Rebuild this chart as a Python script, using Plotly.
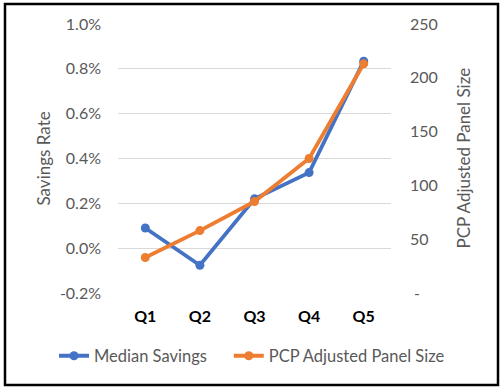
import plotly.graph_objects as go

categories = ["Q1", "Q2", "Q3", "Q4", "Q5"]
median_savings = [0.0009, -0.00076, 0.0022, 0.00337, 0.00834]
panel_size = [33, 58, 85, 125, 213]
series_names = ["Median Savings", "PCP Adjusted Panel Size"]

left_ticks = [-0.002, 0.0, 0.002, 0.004, 0.006, 0.008, 0.010]
left_ticktext = ["-0.2%", "0.0%", "0.2%", "0.4%", "0.6%", "0.8%", "1.0%"]
right_ticks = [0, 50, 100, 150, 200, 250]
right_ticktext = [" -", "50", "100", "150", "200", "250"]

BLUE = "#4472C4"
ORANGE = "#ED7D31"
GRAY = "#595959"
FONT = "Lato"

T, B, L, R = 24, 95, 118, 113
PH = 388 - T - B
PW = 504 - L - R

def px_x(p):
    return (p - L) / PW

def px_y(p):
    return (388 - B - p) / PH

fig = go.Figure()
fig.add_trace(go.Scatter(
    x=categories, y=median_savings, name=series_names[0] + "\u00a0" * 4,
    mode="lines+markers", line=dict(color=BLUE, width=3.8),
    marker=dict(color=BLUE, size=9), yaxis="y"))
fig.add_trace(go.Scatter(
    x=categories, y=panel_size, name=series_names[1],
    mode="lines+markers", line=dict(color=ORANGE, width=3.8),
    marker=dict(color=ORANGE, size=9), yaxis="y2"))

fig.update_layout(
    width=504, height=388,
    margin=dict(l=L, r=R, t=T, b=B),
    paper_bgcolor="white", plot_bgcolor="white",
    font=dict(family=FONT, color=GRAY, size=16),
    showlegend=True,
    legend=dict(orientation="h", x=px_x(54), y=px_y(356), xanchor="left", yanchor="middle",
                font=dict(size=16.5, color=GRAY), tracegroupgap=0),
    xaxis=dict(type="category", range=[-0.5, 4.5], showgrid=False, zeroline=False,
               showline=False, ticks="", ticklabelstandoff=12,
               tickfont=dict(size=16, color="black", family=FONT, weight="bold")),
    yaxis=dict(range=[-0.002, 0.010], tickvals=left_ticks, ticktext=left_ticktext,
               showgrid=True, gridcolor="#D9D9D9", gridwidth=1, zeroline=False,
               showline=False, ticks="", ticklabelstandoff=16,
               tickfont=dict(size=16, color=GRAY)),
    yaxis2=dict(range=[0, 250], tickvals=right_ticks, ticktext=right_ticktext,
                overlaying="y", side="right", showgrid=False, zeroline=False,
                showline=False, ticks="", ticklabelstandoff=18,
                tickfont=dict(size=16, color=GRAY)),
    annotations=[
        dict(text="Savings Rate", xref="paper", yref="paper", x=px_x(43), y=0.5,
             textangle=-90, showarrow=False, xanchor="center", yanchor="middle",
             font=dict(size=17, color=GRAY)),
        dict(text="PCP Adjusted Panel Size", xref="paper", yref="paper", x=px_x(463), y=0.5,
             textangle=-90, showarrow=False, xanchor="center", yanchor="middle",
             font=dict(size=17, color=GRAY)),
    ],
    shapes=[dict(type="rect", xref="paper", yref="paper",
                 x0=px_x(5), x1=px_x(498), y0=px_y(385), y1=px_y(4),
                 line=dict(color="black", width=2.5), fillcolor="rgba(0,0,0,0)", layer="above")],
)

fig.write_html("out.html", config={"displayModeBar": False},
               post_script="document.body.style.margin='0';")
